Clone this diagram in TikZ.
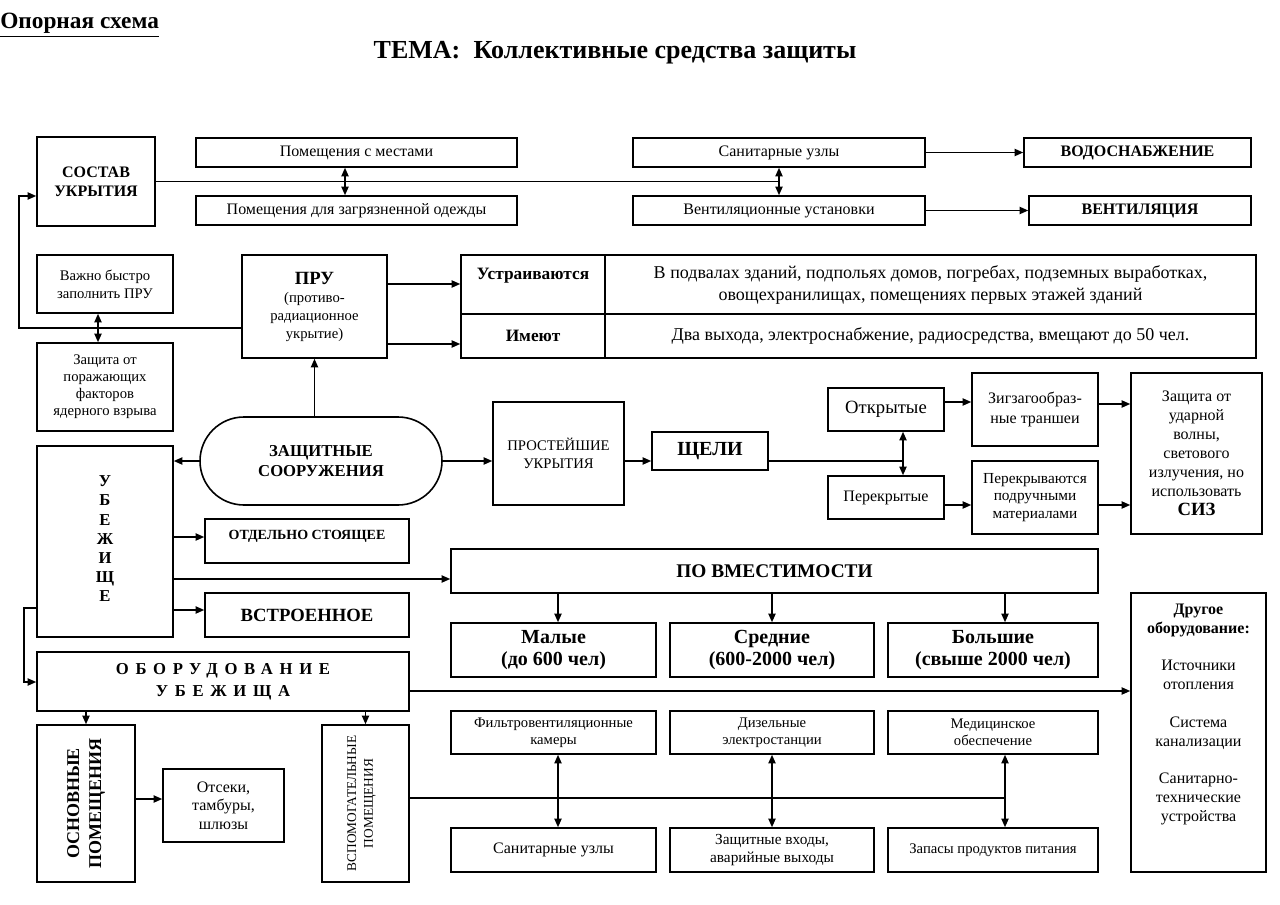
\documentclass[tikz,border=0pt]{standalone}
\usepackage{fontspec}
\setmainfont{Liberation Serif}
\usetikzlibrary{arrows.meta,calc}
\newcommand\fsz[2]{\fontsize{#1}{#2}\selectfont}
\tikzset{
  box/.style={draw, line width=1.2pt, inner sep=0pt, align=center, font=\fsz{12}{14}},
  conn/.style={line width=1pt},
  arr/.style={conn, -{Triangle[length=6.5pt,width=5.5pt]}},
  darr/.style={conn, {Triangle[length=6.5pt,width=5.5pt]}-{Triangle[length=6.5pt,width=5.5pt]}},
}
% #1 options, #2 name, #3 x1, #4 y1, #5 x2, #6 y2, #7 text  (pixel coordinates)
\newcommand\bx[7][]{%
  \pgfmathsetmacro\bxcx{(#3+#5)/2}\pgfmathsetmacro\bxcy{(#4+#6)/2}%
  \pgfmathsetmacro\bxw{(#5-#3)*0.75}\pgfmathsetmacro\bxh{(#6-#4)*0.75}%
  \node[box, minimum width=\bxw pt, minimum height=\bxh pt, #1] (#2) at (\bxcx,\bxcy) {#7};}
\begin{document}
\begin{tikzpicture}[x=0.75pt,y=-0.75pt]
\fill[white] (0,0) rectangle (1280,905);
\useasboundingbox (0,0) rectangle (1280,905);

% helper coordinates
\foreach \v in {19,24,98,345,558,772,903,1005}{\coordinate (X\v) at (\v,0);}
\foreach \v in {196,284,328,344,402,404,505,537,579,608,610,682,691,798,799}{\coordinate (Y\v) at (0,\v);}

% titles
\node[anchor=base west, inner sep=0pt, font=\fsz{17.5}{19}\bfseries] (t1) at (0,29) {\underline{Опорная схема}};
\node[anchor=base, inner sep=0pt, font=\fsz{19.5}{22}\bfseries] (t2) at (615,59) {ТЕМА:\hspace{10pt}Коллективные средства защиты};

% top group
\bx[font=\fsz{12}{14.5}\bfseries]{sostav}{37}{137}{155}{226}{СОСТАВ\\УКРЫТИЯ}
\bx{pom1}{196}{138}{517}{167}{Помещения с местами}
\bx{pom2}{196}{196}{517}{225}{Помещения для загрязненной одежды}
\bx{sanuz}{633}{138}{925}{167}{Санитарные узлы}
\bx{vent}{633}{196}{925}{225}{Вентиляционные установки}
\bx[font=\fsz{12}{14}\bfseries]{vodo}{1024}{138}{1251}{167}{ВОДОСНАБЖЕНИЕ}
\bx[font=\fsz{12}{14}\bfseries]{ventil}{1029}{196}{1251}{225}{ВЕНТИЛЯЦИЯ}

\coordinate (j1) at (sanuz.south |- sostav.east);
\draw[conn] (sostav.east) -- (j1);
\draw[darr] (sanuz.south) -- (vent.north);
\draw[darr] (pom1.south -| X345) -- (pom2.north -| X345);
\draw[arr] (sanuz.east) -- (vodo.west);
\draw[arr] (vent.east) -- (ventil.west);

% ПРУ group
\bx[font=\fsz{11}{13.5}]{vazhno}{37}{255}{173}{313}{Важно быстро\\заполнить ПРУ}
\bx[font=\fsz{11}{12.8}]{zasch1}{37}{343}{173}{431}{Защита от\\поражающих\\факторов\\ядерного взрыва}
\draw[darr] (vazhno.south -| X98) -- (zasch1.north -| X98);
\bx[font=\fsz{11}{13.5}]{pru}{242}{255}{387}{358}{{\fsz{14}{17}\bfseries ПРУ}\\(противо-\\радиационное\\укрытие)}
\draw[arr] (pru.west |- Y328) -- (X19 |- Y328) |- (sostav.west |- Y196);

\bx[font=\fsz{13}{16}\bfseries]{tab1}{461}{255}{605}{314}{Устраиваются\\\mbox{}}
\bx[font=\fsz{13.5}{16.5}]{tab2}{605}{255}{1256}{314}{В подвалах зданий, подпольях домов, погребах, подземных выработках,\\овощехранилищах, помещениях первых этажей зданий}
\bx[font=\fsz{13}{16}\bfseries]{tab3}{461}{314}{605}{358}{Имеют}
\bx[font=\fsz{13.5}{16.5}]{tab4}{605}{314}{1256}{358}{Два выхода, электроснабжение, радиосредства, вмещают до 50 чел.}
\draw[arr] (pru.east |- Y284) -- (tab1.west |- Y284);
\draw[arr] (pru.east |- Y344) -- (tab3.west |- Y344);

% защитные сооружения
\bx[rounded corners=33pt, font=\fsz{12.5}{14.5}\bfseries]{zs}{200}{417}{442}{505}{ЗАЩИТНЫЕ\\СООРУЖЕНИЯ}
\draw[arr] (zs.north -| pru.south) -- (pru.south);

\bx[font=\fsz{12.5}{14.3}\bfseries]{ubezh}{37}{446}{173}{637}{У\\Б\\Е\\Ж\\И\\Щ\\Е\\[-10pt]\mbox{}}
\draw[arr] (zs.west) -- (zs.west -| ubezh.east);
\bx[font=\fsz{10.5}{12}\bfseries]{otdel}{205}{519}{409}{563}{ОТДЕЛЬНО СТОЯЩЕЕ\\[-3pt]\mbox{}}
\bx[font=\fsz{14}{16}\bfseries]{vstr}{205}{593}{409}{637}{ВСТРОЕННОЕ}

% простейшие укрытия
\bx[font=\fsz{11}{13}]{prost}{493}{402}{624}{505}{ПРОСТЕЙШИЕ\\УКРЫТИЯ}
\draw[arr] (zs.east) -- (zs.east -| prost.west);
\bx[font=\fsz{15}{17}\bfseries]{scheli}{652}{432}{768}{470}{ЩЕЛИ}
\draw[arr] (prost.east |- zs.east) -- (scheli.west |- zs.east);
\bx[font=\fsz{14}{16}]{otkr}{828}{388}{944}{431}{Открытые}
\bx[font=\fsz{12}{14}]{perekr}{828}{476}{944}{519}{Перекрытые}
\draw[conn] (scheli.east |- zs.east) -- (X903 |- zs.east);
\draw[darr] (otkr.south -| X903) -- (perekr.north -| X903);
\bx[font=\fsz{12}{14.5}]{zig}{972}{373}{1098}{446}{Зигзагообраз-\\ные траншеи}
\bx[font=\fsz{11.5}{13}]{perekryv}{972}{461}{1098}{534}{Перекрываются\\подручными\\материалами}
\bx[font=\fsz{12}{14.3}]{zasch2}{1131}{373}{1262}{534}{Защита от\\ударной\\волны,\\светового\\излучения, но\\использовать\\{\fsz{14}{14.3}\bfseries СИЗ}}
\draw[arr] (otkr.east |- Y402) -- (zig.west |- Y402);
\draw[arr] (perekr.east |- Y505) -- (perekryv.west |- Y505);
\draw[arr] (zig.east |- Y404) -- (zasch2.west |- Y404);
\draw[arr] (perekryv.east |- Y505) -- (zasch2.west |- Y505);

% по вместимости
\bx[font=\fsz{14.5}{16}\bfseries]{povm}{451}{549}{1098}{593}{ПО ВМЕСТИМОСТИ}
\bx[font=\fsz{15}{17}\bfseries]{malye}{451}{623}{656}{677}{Малые\\(до 600 чел)}
\bx[font=\fsz{15}{17}\bfseries]{srednie}{670}{623}{874}{677}{Средние\\(600-2000 чел)}
\bx[font=\fsz{15}{17}\bfseries]{bolshie}{888}{623}{1098}{677}{Большие\\(свыше 2000 чел)}
\draw[arr] (povm.south -| X558) -- (malye.north -| X558);
\draw[arr] (povm.south -| X772) -- (srednie.north -| X772);
\draw[arr] (povm.south -| X1005) -- (bolshie.north -| X1005);

\draw[arr] (ubezh.east |- Y537) -- (otdel.west |- Y537);
\draw[arr] (ubezh.east |- Y579) -- (povm.west |- Y579);
\draw[arr] (ubezh.east |- Y610) -- (vstr.west |- Y610);

% оборудование убежища
\bx[font=\fsz{12.5}{16.5}\bfseries\addfontfeature{LetterSpace=40}]{oborud}{37}{652}{409}{711}{ОБОРУДОВАНИЕ\\УБЕЖИЩА}
\draw[arr] (ubezh.west |- Y608) -- (X24 |- Y608) |- (oborud.west |- Y682);

\bx{drugoe}{1131}{593}{1266}{872}{}
\node[anchor=north, inner sep=0pt, align=center, font=\fsz{12}{14.3}] (drugoeT) at (1198.5,604) {{\bfseries Другое}\\{\bfseries оборудование:}\\[13.5pt]Источники\\отопления\\[13.5pt]Система\\канализации\\[13.5pt]Санитарно-\\технические\\устройства};
\draw[arr] (oborud.east |- Y691) -- (drugoe.west |- Y691);

\bx{osn}{37}{725}{135}{882}{}
\node[rotate=90, inner sep=0pt, align=center, font=\fsz{13.5}{16.5}\bfseries] (osnT) at (osn) {ОСНОВНЫЕ\\ПОМЕЩЕНИЯ};
\bx{vspom}{322}{725}{409}{882}{}
\node[rotate=90, inner sep=0pt, align=center, font=\fsz{10}{12.5}] (vspomT) at ([xshift=-3pt]vspom.center) {ВСПОМОГАТЕЛЬНЫЕ\\ПОМЕЩЕНИЯ};
\draw[arr] (oborud.south -| osn.north) -- (osn.north);
\draw[arr] (oborud.south -| vspom.north) -- (vspom.north);
\bx[font=\fsz{12}{14}]{otseki}{163}{769}{284}{842}{Отсеки,\\тамбуры,\\шлюзы}
\draw[arr] (osn.east |- Y799) -- (otseki.west |- Y799);

% нижние блоки
\bx[font=\fsz{11}{13}]{filtr}{451}{711}{656}{754}{Фильтровентиляционные\\камеры}
\bx[font=\fsz{11}{13}]{dizel}{670}{711}{874}{754}{Дизельные\\электростанции}
\bx[font=\fsz{11}{13}]{med}{888}{711}{1098}{754}{Медицинское\\обеспечение}
\bx[font=\fsz{12}{14}]{sanuz2}{451}{828}{656}{872}{Санитарные узлы}
\bx[font=\fsz{11.5}{13.5}]{vhody}{670}{828}{874}{872}{Защитные входы,\\аварийные выходы}
\bx[font=\fsz{11}{13}]{zapas}{888}{828}{1098}{872}{Запасы продуктов питания}
\draw[conn] (vspom.east |- Y798) -- (X1005 |- Y798);
\draw[darr] (filtr.south -| X558) -- (sanuz2.north -| X558);
\draw[darr] (dizel.south -| X772) -- (vhody.north -| X772);
\draw[darr] (med.south -| X1005) -- (zapas.north -| X1005);
\end{tikzpicture}
\end{document}
